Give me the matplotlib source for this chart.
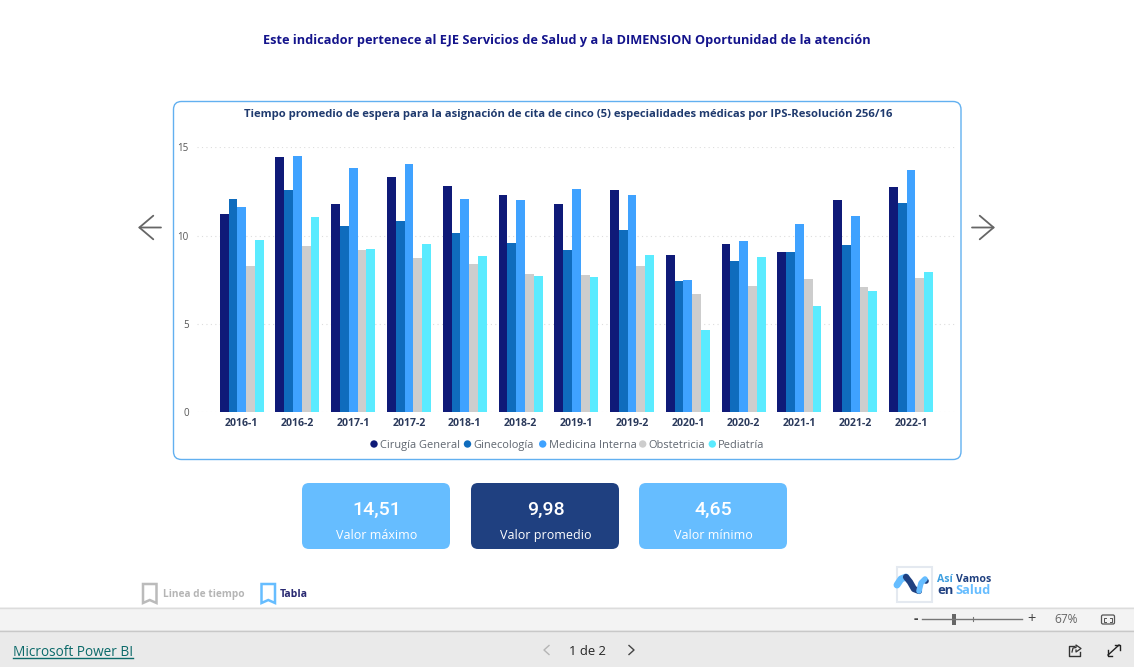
import numpy as np
import matplotlib
matplotlib.use("Agg")
import matplotlib.pyplot as plt
from matplotlib.patches import FancyBboxPatch, Polygon, Rectangle, Circle

periodos = ["2016-1", "2016-2", "2017-1", "2017-2", "2018-1", "2018-2", "2019-1",
            "2019-2", "2020-1", "2020-2", "2021-1", "2021-2", "2022-1"]
cirugia = [11.22, 14.45, 11.79, 13.34, 12.81, 12.28, 11.79, 12.58, 8.88, 9.50, 9.07, 12.02, 12.77]
gineco = [12.05, 12.58, 10.52, 10.84, 10.16, 9.56, 9.18, 10.32, 7.42, 8.56, 9.07, 9.45, 11.83]
medicina = [11.62, 14.51, 13.83, 14.04, 12.05, 12.02, 12.66, 12.30, 7.46, 9.69, 10.65, 11.09, 13.73]
obstetricia = [8.27, 9.41, 9.18, 8.73, 8.41, 7.82, 7.75, 8.27, 6.71, 7.14, 7.52, 7.10, 7.59]
pediatria = [9.73, 11.03, 9.22, 9.52, 8.82, 7.71, 7.63, 8.90, 4.65, 8.78, 6.03, 6.86, 7.95]

series = [cirugia, gineco, medicina, obstetricia, pediatria]
nombres = ["Cirugía General", "Ginecología", "Medicina Interna", "Obstetricia", "Pediatría"]
colores = ["#0f1a78", "#0f6cbd", "#3fa2ff", "#cdcdcd", "#5aebff"]

tarjetas = ["14,51", "9,98", "4,65"]
tarjetas_txt = ["Valor máximo", "Valor promedio", "Valor mínimo"]

plt.rcParams["font.family"] = ["Open Sans", "DejaVu Sans"]

W, H = 1134, 667
fig = plt.figure(figsize=(W / 100, H / 100), dpi=100, facecolor="white")

# fondo en pixeles para todo lo que no es el grafico
bg = fig.add_axes([0, 0, 1, 1])
bg.set_xlim(0, W)
bg.set_ylim(H, 0)
bg.axis("off")

bg.add_patch(Rectangle((0, 607), W, 23, fc="#f3f3f3", ec="none"))
bg.add_patch(Rectangle((0, 630), W, 37, fc="#eaeaea", ec="none"))
bg.plot([0, W], [607.5, 607.5], color="#dcdcdc", lw=1)
bg.plot([0, W], [630.5, 630.5], color="#c8c8c8", lw=1)

bg.text(567, 44, "Este indicador pertenece al EJE Servicios de Salud y a la DIMENSION Oportunidad de la atención",
        ha="center", va="baseline", fontsize=9.2, fontweight="bold", color="#14148c")

# marco del grafico
bg.add_patch(FancyBboxPatch((173.5, 101.5), 787.5, 358, boxstyle="round,pad=0,rounding_size=8",
                            fc="white", ec="#62b0f0", lw=1))
bg.text(568.5, 117.5, "Tiempo promedio de espera para la asignación de cita de cinco (5) especialidades médicas por IPS-Resolución 256/16",
        ha="center", va="baseline", fontsize=8.07, fontweight="bold", color="#1f3a6e")

# grafico de barras
ax_l, ax_r, ax_t, ax_b = 197, 955, 147.3, 412
ax = fig.add_axes([ax_l / W, 1 - ax_b / H, (ax_r - ax_l) / W, (ax_b - ax_t) / H])
ax.patch.set_alpha(0)
x = np.arange(len(periodos))
ancho = 8.8 / 55.77
for i, (vals, col) in enumerate(zip(series, colores)):
    ax.bar(x + (i - 2) * ancho, vals, ancho, color=col, zorder=3, label=nombres[i])
ax.set_xlim((ax_l - 241.7) / 55.77, (ax_r - 241.7) / 55.77)
ax.set_ylim(0, 15)
ax.set_yticks([0, 5, 10, 15])
ax.set_xticks(x)
ax.set_xticklabels(periodos, fontsize=7.6, fontweight="bold", color="#2b3a5c")
ax.tick_params(axis="both", length=0)
ax.tick_params(axis="x", pad=4)
ax.tick_params(axis="y", labelsize=7, labelcolor="#555555", pad=6)
ax.grid(axis="y", color="#dddddd", lw=0.8, linestyle=(0, (1, 3)), zorder=0)
ax.set_axisbelow(True)
for s in ax.spines.values():
    s.set_visible(False)

# leyenda a mano, para clavar la posicion de cada entrada
ley_pt = [374, 467.5, 542.7, 642.7, 712.3]
for xp, nom, col in zip(ley_pt, nombres, colores):
    bg.add_patch(Circle((xp, 444), 3.7, fc=col, ec="none"))
    bg.text(xp + 6, 448, nom, ha="left", va="baseline", fontsize=7.9, color="#5f6670")

# flechas
for x0, x1 in [(161, 138), (972, 995)]:
    bg.annotate("", xy=(x1, 227.5), xytext=(x0, 227.5),
                arrowprops=dict(arrowstyle="->,head_length=1.0,head_width=0.85", color="#666666", lw=1.3,
                                shrinkA=0, shrinkB=0))

# tarjetas
card_x = [302, 471, 639]
card_col = ["#66bdff", "#1f4080", "#66bdff"]
for cx, col, val, txt in zip(card_x, card_col, tarjetas, tarjetas_txt):
    bg.add_patch(FancyBboxPatch((cx, 483), 148, 66, boxstyle="round,pad=0,rounding_size=7", fc=col, ec="none"))
    bg.text(cx + 74.5, 509.5, val, ha="center", va="center", fontsize=14, color="white", family="Roboto", fontweight="medium")
    bg.text(cx + 74.5, 539, txt, ha="center", va="baseline", fontsize=9, color="white")

# marcadores
def marcador(x0, col):
    bg.add_patch(Polygon([(x0, 584), (x0 + 13.5, 584), (x0 + 13.5, 603), (x0 + 6.75, 600), (x0, 603)],
                         closed=True, fc="white", ec=col, lw=1.8))

marcador(143, "#bbbbbb")
bg.text(163, 597, "Linea de tiempo", ha="left", va="baseline", fontsize=7.25, fontweight="bold", color="#b5b5b5")
marcador(261.5, "#66bdff")
bg.text(280, 597, "Tabla", ha="left", va="baseline", fontsize=7.6, fontweight="bold", color="#2a2a72")

# logo
bg.add_patch(Rectangle((897, 566.5), 35, 35.5, fc="white", ec="#e4e9f0", lw=1.5))
bg.plot([897, 901, 906], [585, 579, 577], color="#66bdff", lw=5, solid_capstyle="round")
bg.plot([906, 910, 914, 919], [577, 582, 589, 591], color="#1f4080", lw=4.5, solid_capstyle="round")
bg.plot([919, 921, 925], [591, 583, 579], color="#66bdff", lw=4, solid_capstyle="round")
bg.add_patch(Circle((926, 581), 2.8, fc="#1f4080", ec="none"))
bg.text(937, 582, "Así", ha="left", va="baseline", fontsize=7.6, fontweight="bold", color="#3d9fe0")
bg.text(955.5, 582, "Vamos", ha="left", va="baseline", fontsize=7.6, fontweight="bold", color="#1f4080")
bg.text(937, 594, "en", ha="left", va="baseline", fontsize=9.4, fontweight="bold", color="#1f4080")
bg.text(955.5, 594, "Salud", ha="left", va="baseline", fontsize=9.2, fontweight="bold", color="#66bdff")

# barra de zoom
bg.text(915.5, 618.5, "-", ha="center", va="center", fontsize=10, fontweight="bold", color="#444444")
bg.plot([922, 1022], [619, 619], color="#777777", lw=1)
bg.plot([972.5, 972.5], [617, 621], color="#777777", lw=0.8)
bg.add_patch(Rectangle((952, 614), 4, 11, fc="#666666", ec="none"))
bg.text(1032, 623, "+", ha="center", va="baseline", fontsize=10.5, color="#444444")
bg.text(1066.5, 623, "67%", ha="center", va="baseline", fontsize=8.6, color="#666666")
bg.add_patch(FancyBboxPatch((1101.5, 615), 13, 9, boxstyle="round,pad=0,rounding_size=1.5", fc="none", ec="#555555", lw=0.9))
bg.plot([1106, 1104, 1104, 1106], [617.5, 617.5, 621.5, 621.5], color="#555555", lw=0.7)
bg.plot([1110, 1112, 1112, 1110], [617.5, 617.5, 621.5, 621.5], color="#555555", lw=0.7)

# pie
bg.text(13, 656, "Microsoft Power BI", ha="left", va="baseline", fontsize=9.8, color="#0b6a6a")
bg.plot([13, 133], [658, 658], color="#0b6a6a", lw=1)
bg.text(587.5, 655, "1 de 2", ha="center", va="baseline", fontsize=9.4, fontweight="medium", color="#252525")
bg.plot([549, 544, 549], [645.5, 650, 654.5], color="#b5b5b5", lw=1)
bg.plot([629, 634, 629], [645.5, 650, 654.5], color="#444444", lw=1)

# iconos de compartir y expandir
bg.plot([1074, 1069, 1069, 1080, 1080], [646, 646, 655.5, 655.5, 652], color="#333333", lw=1)
bg.plot([1072, 1073, 1076, 1076, 1081, 1076, 1076], [652, 648, 647.5, 645, 648.5, 652, 650], color="#333333", lw=0.9)
bg.plot([1108, 1119], [655, 645], color="#222222", lw=1)
bg.plot([1108, 1108, 1112], [650, 655.5, 655.5], color="#222222", lw=1)
bg.plot([1114.5, 1119.5, 1119.5], [645, 645, 650], color="#222222", lw=1)

fig.savefig("out.png", dpi=100)
